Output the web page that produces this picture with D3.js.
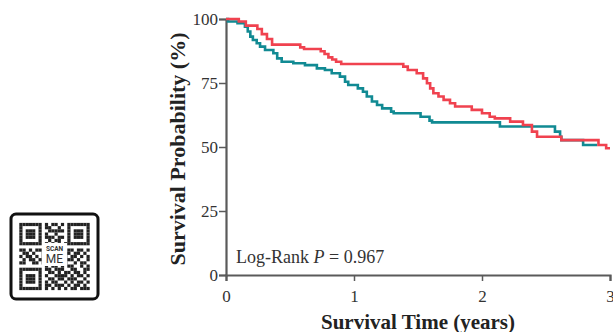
<!DOCTYPE html>
<html>
<head>
<meta charset="utf-8">
<script src="https://cdn.jsdelivr.net/npm/d3@7"></script>
<style>
  body { margin: 0; background: #fff; }
  svg { display: block; }
</style>
</head>
<body>
<div id="chart"></div>
<script>
// step points: [time in years, survival %] at each drop
const redSteps = [
  [0, 100], [0.10, 99.0], [0.155, 97.4], [0.245, 96.1], [0.28, 94.1], [0.32, 92.2],
  [0.36, 90.0], [0.58, 88.9], [0.61, 88.3], [0.74, 87.4], [0.77, 86.3], [0.80, 85.0],
  [0.83, 84.2], [0.86, 83.3], [0.90, 82.4], [1.385, 81.4], [1.42, 80.1], [1.49, 78.8],
  [1.54, 76.8], [1.57, 74.9], [1.595, 72.9], [1.62, 71.0], [1.66, 69.7], [1.70, 68.4],
  [1.75, 67.1], [1.79, 65.8], [1.92, 64.5], [2.00, 63.2], [2.06, 61.8], [2.10, 61.2],
  [2.22, 59.9], [2.32, 58.6], [2.39, 56.0], [2.43, 54.0], [2.62, 52.7], [2.91, 50.8],
  [2.97, 49.5], [3.0, 49.5]
];
const tealSteps = [
  [0, 100], [0.016, 99.0], [0.09, 98.4], [0.148, 97.0], [0.17, 95.1], [0.19, 93.1],
  [0.21, 91.8], [0.24, 90.5], [0.266, 89.2], [0.305, 87.9], [0.37, 86.6], [0.40, 84.6],
  [0.435, 83.3], [0.526, 82.7], [0.617, 82.0], [0.71, 80.7], [0.773, 80.1], [0.826, 78.8],
  [0.89, 77.5], [0.93, 75.5], [0.955, 74.2], [1.03, 72.9], [1.07, 71.6], [1.10, 69.7],
  [1.14, 67.8], [1.18, 66.4], [1.22, 65.1], [1.29, 63.8], [1.31, 63.2], [1.52, 61.8],
  [1.59, 60.3], [1.61, 59.6], [2.14, 58.0], [2.57, 56.0], [2.61, 54.0], [2.62, 52.7],
  [2.79, 50.8], [2.90, 50.8]
];
const xTicks = [0, 1, 2, 3];
const yTicks = [0, 25, 50, 75, 100];
const pText = '0.967';

// decorative QR pattern (1 = dark)
const qrRows = [
  '1111111010110101111111',
  '1000001011001001000001',
  '1011101001111101011101',
  '1011101010010001011101',
  '1011101011101101011101',
  '1000001001011001000001',
  '1111111010101011111111',
  '0000000011010100000000',
  '1101011010110101101101',
  '0110100101101011011010',
  '1011010110100110110101',
  '0101101011011001101001',
  '1100110100101110010110',
  '0000000010110101100101',
  '1111111011011100110011',
  '1000001001101011011010',
  '1011101010011110101101',
  '1011101001101101110010',
  '1011101010110010101101',
  '1000001011011101011010',
  '1111111010101010110111'
];

const W = 613, H = 332;
const margin = { left: 226, right: 3, top: 19, bottom: 57 };
const width = W - margin.left - margin.right;   // 384
const height = H - margin.top - margin.bottom;  // 256

const svg = d3.select('#chart').append('svg')
  .attr('width', W).attr('height', H);

const x = d3.scaleLinear().domain([0, 3]).range([margin.left, margin.left + width]);
const y = d3.scaleLinear().domain([0, 100]).range([margin.top + height, margin.top]);

const serif = '"Liberation Serif", "DejaVu Serif", serif';
const axisColor = '#5a5a5a';

// axes
const gx = svg.append('g')
  .attr('transform', `translate(0, ${y(0)})`)
  .call(d3.axisBottom(x).tickValues(xTicks).tickFormat(d3.format('d')).tickSizeOuter(0).tickSize(6));
const gy = svg.append('g')
  .attr('transform', `translate(${x(0)}, 0)`)
  .call(d3.axisLeft(y).tickValues(yTicks).tickSizeOuter(0).tickSize(7));

[gx, gy].forEach(g => {
  g.select('.domain').attr('stroke', axisColor).attr('stroke-width', 2.2);
  g.selectAll('.tick line').attr('stroke', axisColor).attr('stroke-width', 1.5);
  g.selectAll('.tick text')
    .attr('font-family', serif).attr('font-size', 17).attr('fill', '#333');
});
gx.selectAll('.tick text').attr('y', 27).attr('dy', 0);
gy.selectAll('.tick text').attr('x', -8).attr('dy', '0.35em');

// curves
const stepLine = d3.line()
  .x(d => x(d[0]))
  .y(d => y(d[1]))
  .curve(d3.curveStepAfter);

svg.append('path')
  .datum(tealSteps)
  .attr('fill', 'none')
  .attr('stroke', '#118a93')
  .attr('stroke-width', 2.6)
  .attr('d', stepLine);

svg.append('path')
  .datum(redSteps)
  .attr('fill', 'none')
  .attr('stroke', '#f0424f')
  .attr('stroke-width', 2.6)
  .attr('d', stepLine);

// log-rank annotation
const lr = svg.append('text')
  .attr('x', x(0) + 10)
  .attr('y', y(0) - 12)
  .attr('font-family', serif)
  .attr('font-size', 18)
  .attr('fill', '#333');
lr.append('tspan').text('Log-Rank ');
lr.append('tspan').attr('font-style', 'italic').text('P');
lr.append('tspan').text(' = ' + pText);

// axis labels
svg.append('text')
  .attr('x', margin.left + width / 2)
  .attr('y', 329)
  .attr('text-anchor', 'middle')
  .attr('font-family', serif)
  .attr('font-weight', 'bold')
  .attr('font-size', 21)
  .attr('fill', '#222')
  .text('Survival Time (years)');

svg.append('text')
  .attr('transform', `translate(185, ${margin.top + height / 2 + 2}) rotate(-90)`)
  .attr('text-anchor', 'middle')
  .attr('font-family', serif)
  .attr('font-weight', 'bold')
  .attr('font-size', 22)
  .attr('fill', '#222')
  .text('Survival Probability (%)');

// QR badge
const qr = svg.append('g').attr('transform', 'translate(11, 214)');
qr.append('rect')
  .attr('width', 87).attr('height', 85)
  .attr('rx', 5)
  .attr('fill', '#fff')
  .attr('stroke', '#111')
  .attr('stroke-width', 3);
const cell = 3.2;
const qx = 43.5 - qrRows[0].length * cell / 2;
const qy = 42.5 - qrRows.length * cell / 2;
qrRows.forEach((row, r) => {
  row.split('').forEach((c, k) => {
    if (c === '1') {
      qr.append('rect')
        .attr('x', qx + k * cell).attr('y', qy + r * cell)
        .attr('width', cell).attr('height', cell)
        .attr('fill', '#222');
    }
  });
});
qr.append('rect')
  .attr('x', 31).attr('y', 29)
  .attr('width', 25).attr('height', 23)
  .attr('fill', '#fff');
qr.append('text')
  .attr('x', 43.5).attr('y', 37)
  .attr('text-anchor', 'middle')
  .attr('font-family', 'Roboto, sans-serif')
  .attr('font-weight', 'bold')
  .attr('font-size', 6.5)
  .attr('fill', '#333')
  .text('SCAN');
qr.append('text')
  .attr('x', 43.5).attr('y', 49)
  .attr('text-anchor', 'middle')
  .attr('font-family', 'Roboto, sans-serif')
  .attr('font-size', 12)
  .attr('fill', '#333')
  .text('ME');
</script>
</body>
</html>
